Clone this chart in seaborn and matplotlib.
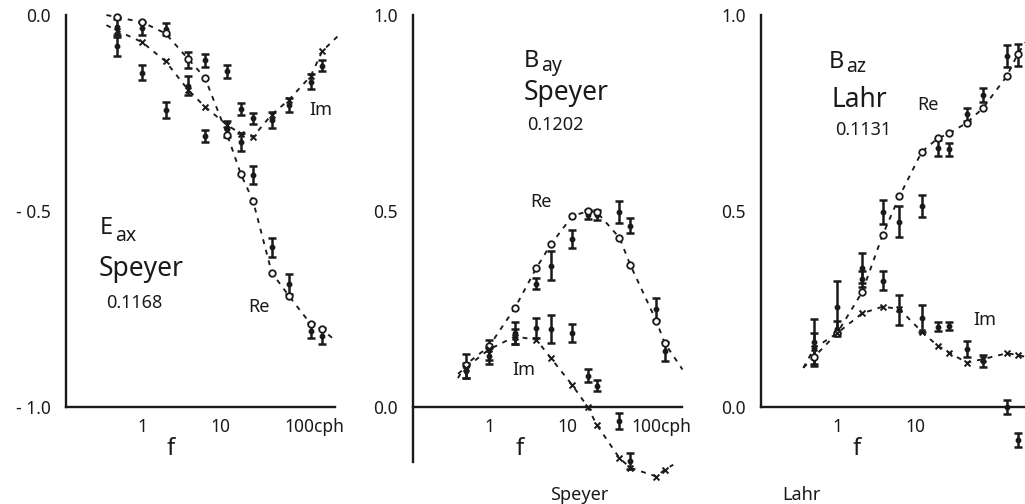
import numpy as np
import matplotlib
matplotlib.use("Agg")
import matplotlib.pyplot as plt
from matplotlib.ticker import NullLocator
import seaborn as sns

nan = np.nan

# ---------------- Panel 1 : E_ax, Speyer ----------------
f1 = [0.48, 1.0, 2.0, 3.9, 6.4, 12.4, 18.5, 26.5, 46, 76, 145, 205]
re_model1 = [-0.006, -0.018, -0.047, -0.112, -0.160, -0.306, -0.406, -0.474, -0.657, -0.716, -0.788, -0.802]
im_model1 = [-0.040, -0.069, -0.118, -0.191, -0.234, -0.281, -0.303, -0.311, -0.254, -0.217, -0.156, -0.092]
re_obs1 = [-0.030, -0.034, -0.035, -0.115, -0.116, -0.291, -0.325, -0.408, -0.593, -0.686, -0.805, -0.819]
re_err1 = [0.020, 0.017, 0.015, 0.020, 0.016, 0.020, 0.023, 0.022, 0.025, 0.025, 0.020, 0.020]
im_obs1 = [-0.080, -0.147, -0.242, -0.180, -0.309, -0.144, -0.240, -0.264, -0.268, -0.230, -0.170, -0.129]
im_err1 = [0.025, 0.019, 0.020, 0.025, 0.016, 0.016, 0.016, 0.015, 0.020, 0.018, 0.020, 0.015]
re_ends1 = [(0.35, 0.0), (275, -0.824)]
im_ends1 = [(0.35, -0.026), (320, -0.055)]

# ---------------- Panel 2 : B_ay, Speyer ----------------
f2 = [0.5, 1.0, 2.15, 4.05, 6.2, 11.7, 18.5, 24, 47, 65, 140, 178]
re_model2 = [0.108, 0.155, 0.253, 0.355, 0.415, 0.487, 0.500, 0.498, 0.432, 0.362, 0.219, 0.164]
im_model2 = [0.100, 0.147, 0.180, 0.172, 0.125, 0.056, 0.000, -0.045, -0.130, -0.155, -0.177, -0.160]
re_obs2 = [0.105, 0.145, 0.189, 0.315, 0.361, 0.429, 0.491, 0.490, 0.498, 0.463, 0.249, 0.142]
re_err2 = [0.030, 0.025, 0.028, 0.015, 0.036, 0.023, 0.012, 0.012, 0.028, 0.020, 0.028, 0.025]
im_obs2 = [0.093, 0.130, 0.180, 0.202, 0.200, 0.189, 0.080, 0.055, -0.036, -0.138, nan, nan]
im_err2 = [0.020, 0.020, 0.020, 0.026, 0.036, 0.023, 0.016, 0.015, 0.020, 0.020, nan, nan]
re_ends2 = [(0.4, 0.074), (302, 0.096)]
im_ends2 = [(0.4, 0.085), (230, -0.147)]

# ---------------- Panel 3 : B_az, Lahr ----------------
f3 = [0.51, 1.0, 2.1, 3.85, 6.3, 12.2, 19.5, 27.5, 46, 74, 150, 207]
re_model3 = [0.128, 0.188, 0.293, 0.439, 0.537, 0.651, 0.685, 0.698, 0.725, 0.762, 0.844, 0.900]
im_model3 = [0.150, 0.188, 0.239, 0.256, 0.250, 0.192, 0.156, 0.139, 0.113, 0.122, 0.137, 0.133]
re_obs3 = [0.165, 0.256, 0.354, 0.498, 0.473, 0.513, 0.660, 0.657, 0.747, 0.796, 0.896, 0.898]
re_err3 = [0.060, 0.066, 0.038, 0.030, 0.040, 0.028, 0.020, 0.017, 0.017, 0.017, 0.028, 0.028]
im_obs3 = [0.150, 0.200, 0.326, 0.322, 0.247, 0.226, 0.205, 0.207, 0.148, 0.118, 0.000, -0.084]
im_err3 = [0.040, 0.020, 0.020, 0.024, 0.038, 0.034, 0.012, 0.010, 0.020, 0.015, 0.017, 0.017]
re_ends3 = [(0.37, 0.10), (260, 0.93)]
im_ends3 = [(0.37, 0.10), (257, 0.128)]

# tick labels
x_labels_cph = ["1", "10", ""]
y_labels1 = ["- 1.0", "", "", "", "", "- 0.5", "", "", "", "", "0.0"]
y_labels2 = ["", "0.0", "", "", "", "", "0.5", "", "", "", "", "1.0"]
y_labels3 = ["0.0", "", "", "", "", "0.5", "", "", "", "", "1.0"]

INK = "#1a1a1a"
sns.set_theme(style="white")
plt.rcParams["font.family"] = ["Noto Sans", "DejaVu Sans"]
plt.rcParams["text.color"] = INK

W, H = 1025, 504
fig = plt.figure(figsize=(W / 100, H / 100), dpi=100)
fig.patch.set_facecolor("white")


def axes_px(left, top, bottom, width):
    return fig.add_axes([left / W, 1 - bottom / H, width / W, (bottom - top) / H])


ax1 = axes_px(66, 15, 407, 269)
ax2 = axes_px(413, 15, 462, 269)
ax3 = axes_px(761, 15, 407, 269)


def style_axis(ax, ylim, yticks, ylabels, zero_spine=False):
    ax.set_xscale("log")
    ax.set_xlim(0.106, 298)
    ax.set_ylim(*ylim)
    ax.patch.set_alpha(0)
    for s in ["top", "right"]:
        ax.spines[s].set_visible(False)
    for s in ["left", "bottom"]:
        ax.spines[s].set_linewidth(1.7)
        ax.spines[s].set_color(INK)
    if zero_spine:
        ax.spines["bottom"].set_position(("data", 0))
    ax.set_yticks(yticks)
    ax.set_yticklabels(ylabels)
    ax.set_xticks([1, 10, 100])
    ax.set_xticklabels(x_labels_cph)
    ax.xaxis.set_minor_locator(NullLocator())
    ax.yaxis.set_minor_locator(NullLocator())
    ax.tick_params(axis="both", direction="in", length=6, width=1.6,
                   colors=INK, labelsize=12.5)
    ax.tick_params(axis="y", pad=11)
    ax.tick_params(axis="x", pad=8)
    ax.set_xlabel("")
    ax.set_ylabel("")


def draw(ax, f, re_m, im_m, re_o, re_e, im_o, im_e, re_ends, im_ends):
    dash = (0, (2.6, 3.2))
    for model, ends in ((re_m, re_ends), (im_m, im_ends)):
        xs = [ends[0][0]] + list(f) + [ends[1][0]]
        ys = [ends[0][1]] + list(model) + [ends[1][1]]
        sns.lineplot(x=xs, y=ys, ax=ax, sort=False, estimator=None,
                     color=INK, linewidth=1.35, linestyle=dash, clip_on=False)
    for obs, err in ((re_o, re_e), (im_o, im_e)):
        cont = ax.errorbar(f, obs, yerr=err, fmt="o", ms=3.2, color=INK,
                           ecolor=INK, elinewidth=1.8, capsize=2.8,
                           capthick=1.8, zorder=3)
        for art in cont.get_children():
            art.set_clip_on(False)
    sns.scatterplot(x=f, y=re_m, ax=ax, marker="o", s=22, color="white",
                    edgecolor=INK, linewidth=1.3, zorder=5, clip_on=False)
    sns.scatterplot(x=f, y=im_m, ax=ax, marker="x", s=18, color=INK,
                    linewidth=1.4, zorder=5, clip_on=False)


draw(ax1, f1, re_model1, im_model1, re_obs1, re_err1, im_obs1, im_err1, re_ends1, im_ends1)
draw(ax2, f2, re_model2, im_model2, re_obs2, re_err2, im_obs2, im_err2, re_ends2, im_ends2)
draw(ax3, f3, re_model3, im_model3, re_obs3, re_err3, im_obs3, im_err3, re_ends3, im_ends3)

style_axis(ax1, (-1.0, 0.0), np.round(np.arange(-1.0, 0.001, 0.1), 2), y_labels1)
style_axis(ax2, (-0.14, 1.0), np.round(np.arange(-0.1, 1.001, 0.1), 2), y_labels2, zero_spine=True)
style_axis(ax3, (0.0, 1.0), np.round(np.arange(0.0, 1.001, 0.1), 2), y_labels3)

# "100cph" labels (the "100" centred on the tick)
for ax, yb in ((ax1, -1.0), (ax2, 0.0)):
    ax.annotate("100cph", xy=(100, yb), xycoords="data", xytext=(-10, -8),
                textcoords="offset points", ha="left", va="top", fontsize=12.5,
                color=INK, annotation_clip=False)


def ptext(x, y, s, size, ha="left"):
    fig.text(x / W, 1 - y / H, s, fontsize=size, ha=ha, va="baseline", color=INK)


# Panel 1 texts
ptext(100, 234, "E", 17)
ptext(115, 241, "ax", 14)
ptext(99, 276, "Speyer", 19)
ptext(106, 308, "0.1168", 13)
ptext(248, 312, "Re", 13)
ptext(309, 115, "Im", 13)
ptext(171, 455, "f", 17, ha="center")

# Panel 2 texts
ptext(524, 67, "B", 17)
ptext(541, 71, "ay", 14)
ptext(524, 100, "Speyer", 19)
ptext(527, 130, "0.1202", 13)
ptext(530, 207, "Re", 13)
ptext(512, 375, "Im", 13)
ptext(520, 455, "f", 17, ha="center")
ptext(550, 500, "Speyer", 13)

# Panel 3 texts
ptext(829, 68, "B", 17)
ptext(846, 72, "az", 14)
ptext(831, 107, "Lahr", 19)
ptext(917, 110, "Re", 13)
ptext(835, 135, "0.1131", 13)
ptext(973, 325, "Im", 13)
ptext(857, 455, "f", 17, ha="center")
ptext(782, 500, "Lahr", 13)

fig.savefig("out.png", dpi=100, facecolor="white")
